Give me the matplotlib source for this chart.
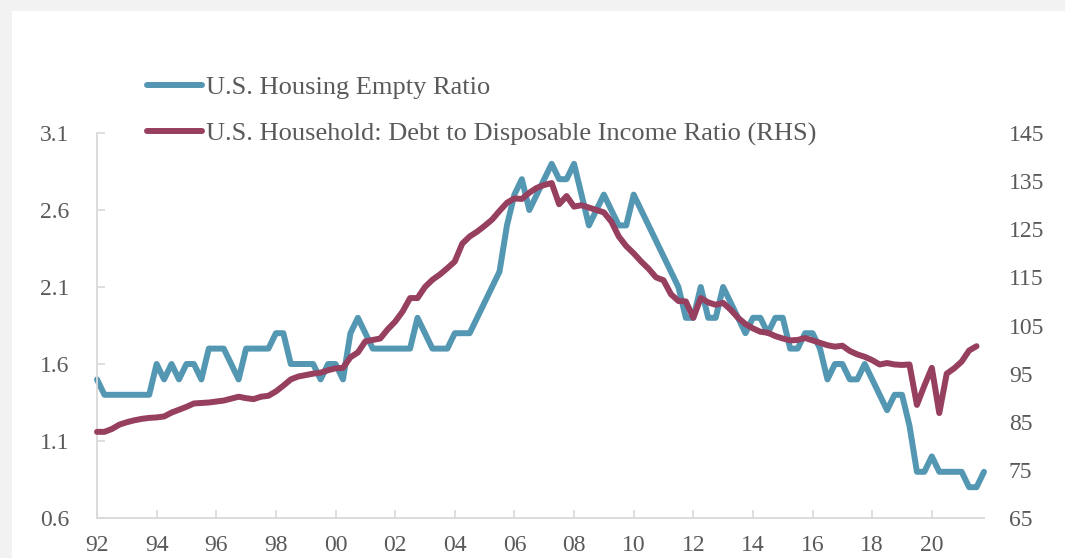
import numpy as np
import matplotlib
matplotlib.use("Agg")
import matplotlib.pyplot as plt
from matplotlib.patches import Rectangle
from matplotlib.lines import Line2D

# quarterly series, first quarter of 1992 onward
vacancy = [
    1.5, 1.4, 1.4, 1.4,  # 1992
    1.4, 1.4, 1.4, 1.4,  # 1993
    1.6, 1.5, 1.6, 1.5,  # 1994
    1.6, 1.6, 1.5, 1.7,  # 1995
    1.7, 1.7, 1.6, 1.5,  # 1996
    1.7, 1.7, 1.7, 1.7,  # 1997
    1.8, 1.8, 1.6, 1.6,  # 1998
    1.6, 1.6, 1.5, 1.6,  # 1999
    1.6, 1.5, 1.8, 1.9,  # 2000
    1.8, 1.7, 1.7, 1.7,  # 2001
    1.7, 1.7, 1.7, 1.9,  # 2002
    1.8, 1.7, 1.7, 1.7,  # 2003
    1.8, 1.8, 1.8, 1.9,  # 2004
    2.0, 2.1, 2.2, 2.5,  # 2005
    2.7, 2.8, 2.6, 2.7,  # 2006
    2.8, 2.9, 2.8, 2.8,  # 2007
    2.9, 2.7, 2.5, 2.6,  # 2008
    2.7, 2.6, 2.5, 2.5,  # 2009
    2.7, 2.6, 2.5, 2.4,  # 2010
    2.3, 2.2, 2.1, 1.9,  # 2011
    1.9, 2.1, 1.9, 1.9,  # 2012
    2.1, 2.0, 1.9, 1.8,  # 2013
    1.9, 1.9, 1.8, 1.9,  # 2014
    1.9, 1.7, 1.7, 1.8,  # 2015
    1.8, 1.7, 1.5, 1.6,  # 2016
    1.6, 1.5, 1.5, 1.6,  # 2017
    1.5, 1.4, 1.3, 1.4,  # 2018
    1.4, 1.2, 0.9, 0.9,  # 2019
    1.0, 0.9, 0.9, 0.9,  # 2020
    0.9, 0.8, 0.8, 0.9,  # 2021
]

debt_income = [
    82.9, 82.9, 83.5, 84.4,      # 1992
    84.9, 85.3, 85.6, 85.8,      # 1993
    85.9, 86.1, 86.9, 87.5,      # 1994
    88.1, 88.8, 88.9, 89.0,      # 1995
    89.2, 89.4, 89.8, 90.2,      # 1996
    89.9, 89.7, 90.2, 90.4,      # 1997
    91.3, 92.5, 93.8, 94.4,      # 1998
    94.7, 95.0, 95.2, 95.7,      # 1999
    96.1, 96.2, 98.4, 99.4,      # 2000
    101.7, 102.0, 102.3, 104.2,  # 2001
    105.8, 107.9, 110.7, 110.7,  # 2002
    113.0, 114.5, 115.6, 116.9,  # 2003
    118.3, 122.0, 123.5, 124.5,  # 2004
    125.7, 127.0, 128.8, 130.5,  # 2005
    131.4, 131.3, 132.6, 133.6,  # 2006
    134.2, 134.6, 130.2, 131.9,  # 2007
    129.7, 130.0, 129.5, 129.0,  # 2008
    128.5, 126.6, 123.5, 121.5,  # 2009
    120.0, 118.3, 116.8, 115.0,  # 2010
    114.4, 111.5, 110.1, 110.0,  # 2011
    106.6, 110.7, 109.8, 109.3,  # 2012
    109.7, 108.3, 106.6, 105.3,  # 2013
    104.4, 103.7, 103.5, 102.8,  # 2014
    102.3, 101.9, 102.0, 102.4,  # 2015
    101.9, 101.4, 100.9, 100.6,  # 2016
    100.8, 99.7, 99.0, 98.5,     # 2017
    97.8, 96.9, 97.2, 96.9,      # 2018
    96.8, 96.9, 88.5, 92.5,      # 2019
    96.2, 86.8, 95.0, 96.1,      # 2020
    97.5, 99.8, 100.7,           # 2021
]

left_ticks = [0.6, 1.1, 1.6, 2.1, 2.6, 3.1]
right_ticks = [65, 75, 85, 95, 105, 115, 125, 135, 145]
year_ticks = list(range(1992, 2021, 2))

label_vacancy = "U.S. Housing Empty Ratio"
label_debt = "U.S. Household: Debt to Disposable Income Ratio (RHS)"

blue = "#5497b3"
maroon = "#973f5f"
text_grey = "#595959"
axis_grey = "#d9d9d9"
line_w = 4.3

plt.rcParams["font.family"] = ["Liberation Serif", "DejaVu Serif"]

t_vac = 1992 + 0.25 * np.arange(len(vacancy))
t_debt = 1992 + 0.25 * np.arange(len(debt_income))

fig = plt.figure(figsize=(10.65, 5.58), dpi=100, facecolor="#f2f2f2")
fig.add_artist(Rectangle((12 / 1065, 0), 1.0, 1 - 11 / 558,
                         transform=fig.transFigure, facecolor="white",
                         edgecolor="none", zorder=0))

ax = fig.add_axes([97 / 1065, 40 / 558, 887 / 1065, 385 / 558])
ax.set_facecolor("none")
ax2 = ax.twinx()

ax.plot(t_vac, vacancy, color=blue, lw=line_w, solid_joinstyle="round",
        solid_capstyle="round", clip_on=False)
ax2.plot(t_debt, debt_income, color=maroon, lw=line_w, solid_joinstyle="round",
         solid_capstyle="round", clip_on=False)

ax.set_xlim(1992, 2021.75)
ax.set_ylim(0.6, 3.1)
ax2.set_ylim(65, 145)

ax.set_xticks(year_ticks)
ax.set_xticklabels([f"{y % 100:02d}" for y in year_ticks])
ax.set_yticks(left_ticks)
ax.set_yticklabels([f"{v:.1f}" for v in left_ticks])
ax2.set_yticks(right_ticks)

for s in ["top", "right"]:
    ax.spines[s].set_visible(False)
for s in ax2.spines.values():
    s.set_visible(False)
for s in ["left", "bottom"]:
    ax.spines[s].set_color(axis_grey)
    ax.spines[s].set_linewidth(1.3)

ax.tick_params(axis="both", direction="in", length=6, width=1.2,
               color=axis_grey, labelsize=17, labelcolor=text_grey)
ax.tick_params(axis="y", pad=20)
ax.tick_params(axis="x", pad=12)
ax2.tick_params(axis="y", length=0, pad=18, labelsize=17, labelcolor=text_grey)

handles = [Line2D([], [], color=blue, lw=line_w, solid_capstyle="round"),
           Line2D([], [], color=maroon, lw=line_w, solid_capstyle="round")]
fig.legend(handles, [label_vacancy, label_debt], loc="upper left",
           bbox_to_anchor=(147 / 1065, 1 - 76 / 558), frameon=False,
           fontsize=19, labelcolor=text_grey, handlelength=2.1,
           handletextpad=0.15, labelspacing=0.85, borderpad=0,
           borderaxespad=0)

fig.savefig("out.png", dpi=100, facecolor=fig.get_facecolor())
